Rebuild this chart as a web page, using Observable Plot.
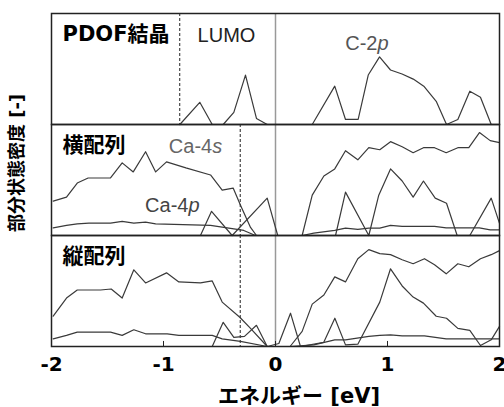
<!DOCTYPE html>
<html>
<head>
<meta charset="utf-8">
<script src="https://cdn.jsdelivr.net/npm/d3@7"></script>
<script src="https://cdn.jsdelivr.net/npm/@observablehq/plot@0.6"></script>
<style>
  body { margin: 0; background: #fff; }
  #wrap { position: relative; width: 504px; height: 407px; }
  .lab { position: absolute; font-family: "DejaVu Sans", "Noto Sans CJK JP", sans-serif; font-weight: 900; color: #000; white-space: nowrap; }
</style>
</head>
<body>
<div id="wrap"></div>
<script>
// Panels (categories)
const panels = ["PDOF結晶", "横配列", "縦配列"];
const xTicks = [-2, -1, 0, 1, 2];

// Energy [eV], partial DOS [arb.]
const pdof_C2p = [[-0.854,0],[-0.676,22],[-0.565,0],[-0.467,0],[-0.372,12],[-0.268,49],[-0.170,6],[-0.074,0],
  [0.328,0],[0.529,38],[0.625,5],[0.738,5],[0.828,49],[0.929,67],[1.027,54],[1.13,50],[1.23,45],[1.324,38],
  [1.435,23],[1.527,0],[1.628,5],[1.735,33],[1.830,27],[1.926,0]];

const yoko_Ca4s = [[-1.985,34],[-1.866,38],[-1.77,52],[-1.673,57],[-1.473,57],[-1.369,72],[-1.27,63],[-1.16,83],
  [-1.07,63],[-0.973,73],[-0.80,67],[-0.58,60],[-0.476,45],[-0.378,47],[-0.3125,30],[-0.223,8],[-0.17,0],
  [0.238,0],[0.328,40],[0.432,59],[0.529,66],[0.625,84],[0.735,75],[0.833,87],[0.931,85],[1.027,93],[1.131,88],
  [1.229,82],[1.321,87],[1.42,87],[1.524,82],[1.628,87],[1.726,87],[1.821,102],[1.917,94],[2.0,92]];
const yoko_Ca4p = [[-1.985,7.6],[-1.866,10],[-1.77,11.6],[-1.666,12.3],[-1.473,12.3],[-1.369,14],[-1.265,12.3],
  [-1.16,13.3],[-1.07,11.6],[-0.58,10],[-0.476,8.3],[-0.372,6.6],[-0.283,5],[-0.179,0],[0.238,0],[0.342,2.3],
  [0.529,5],[0.625,7.3],[0.735,6],[0.833,7.3],[0.931,7.3],[1.027,10],[1.131,9],[1.42,9],[1.524,7.6],[1.82,7.6],
  [1.917,5.6],[2.0,5.6]];
const yoko_C2p = [[-0.67,0],[-0.571,24],[-0.387,0],[-0.074,37],[0.02,0],[0.536,0],[0.625,43],[0.833,0],[0.922,40],
  [1.027,66],[1.131,54],[1.229,38],[1.321,54],[1.426,37],[1.527,32],[1.622,0],[1.735,0],[1.926,37],[2.0,12]];

const tate_Ca4s = [[-1.985,30],[-1.866,48],[-1.77,56],[-1.5625,56],[-1.467,57],[-1.369,48],[-1.265,76],[-1.16,63],
  [-0.973,73],[-0.863,64],[-0.67,63],[-0.565,65],[-0.476,44],[-0.319,29],[-0.223,18],[-0.074,0],
  [0.13,0],[0.238,15],[0.328,42],[0.432,51],[0.529,69],[0.625,64],[0.735,87],[0.833,96],[0.931,92],[1.027,91],
  [1.131,86],[1.229,82],[1.33,87],[1.42,81],[1.524,72],[1.628,82],[1.726,79],[1.83,87],[1.926,91],[2.0,95]];
const tate_Ca4p = [[-1.985,7.6],[-1.866,11],[-1.77,14.3],[-1.473,14.3],[-1.369,11],[-1.265,16.6],[-1.16,12.6],
  [-0.967,12.6],[-0.863,11],[-0.565,11],[-0.476,7.6],[-0.313,5],[-0.074,0],[0.13,0],[0.342,1.6],[0.529,6.6],
  [0.625,6.6],[0.833,10],[0.931,11],[1.027,11.6],[1.131,10.6],[1.33,10.6],[1.524,7.6],[2.0,7.6]];
const tate_C2p = [[-0.565,0],[-0.467,24],[-0.372,9],[-0.277,10],[-0.17,21],[-0.074,0],[0.03,3],[0.134,33],[0.223,0],
  [0.43,4],[0.53,28],[0.625,1.6],[0.735,2.3],[0.931,44],[1.027,77],[1.131,60],[1.229,49],[1.321,43],[1.435,30],
  [1.527,28],[1.628,18],[1.735,16],[1.83,1],[1.926,6.6],[2.0,20]];

// Dashed markers (eV)
const dashTop = -0.855;
const dashLower = -0.315;

// Annotations: main part (anchored end / middle) and italic orbital letter (anchored start)
const noteMain = [
  {panel: "PDOF結晶", x: -0.4375, y: 88, text: "LUMO", anchor: "middle", color: "#222"},
  {panel: "PDOF結晶", x: 0.91, y: 80, text: "C-2", anchor: "end", color: "#555"},
  {panel: "横配列", x: -0.565, y: 88, text: "Ca-4", anchor: "end", color: "#666"},
  {panel: "横配列", x: -0.777, y: 30, text: "Ca-4", anchor: "end", color: "#444"}
];
const noteItalic = [
  {panel: "PDOF結晶", x: 0.91, y: 80, text: "p", color: "#555"},
  {panel: "横配列", x: -0.565, y: 88, text: "s", color: "#666"},
  {panel: "横配列", x: -0.777, y: 30, text: "p", color: "#444"}
];

const rows = [];
function add(panel, series, pts) { for (const [x, y] of pts) rows.push({panel, series, x, y}); }
add(panels[0], "C-2p", pdof_C2p);
add(panels[1], "Ca-4s", yoko_Ca4s);
add(panels[1], "Ca-4p", yoko_Ca4p);
add(panels[1], "C-2p", yoko_C2p);
add(panels[2], "Ca-4s", tate_Ca4s);
add(panels[2], "Ca-4p", tate_Ca4p);
add(panels[2], "C-2p", tate_C2p);

const dashes = [{panel: panels[0], x: dashTop}, {panel: panels[1], x: dashLower}, {panel: panels[2], x: dashLower}];
const innerTicks = xTicks.slice(1, 4).map(x => ({panel: panels[2], x}));
const panelLabels = panels.map(p => ({panel: p}));

const regular = "'Liberation Sans', Arial, sans-serif";
const heavy = "'DejaVu Sans', 'Noto Sans CJK JP', sans-serif";

const textOpts = {x: "x", y: "y", fy: "panel", text: "text", fill: "color", fontSize: 20, lineAnchor: "middle"};

const chart = Plot.plot({
  width: 504, height: 407,
  marginTop: 13, marginBottom: 61, marginLeft: 51, marginRight: 5,
  style: {fontFamily: regular, background: "#fff", overflow: "visible"},
  x: {domain: [-2, 2]},
  y: {domain: [0, 110], axis: null},
  fy: {domain: panels, padding: 0, axis: null},
  marks: [
    Plot.ruleX([0], {stroke: "#999", strokeWidth: 1.5}),
    Plot.ruleX(dashes, {x: "x", fy: "panel", stroke: "#222", strokeWidth: 1, strokeDasharray: "3,2"}),
    Plot.line(rows, {x: "x", y: "y", z: "series", fy: "panel", stroke: "#3a3a3a", strokeWidth: 1.2}),
    Plot.ruleX(innerTicks, {x: "x", fy: "panel", y1: 0, y2: 5, stroke: "#222", strokeWidth: 1}),
    Plot.frame({stroke: "#222", strokeWidth: 1.5}),
    Plot.text(panelLabels, {fy: "panel", text: "panel", frameAnchor: "top-left", dx: 11, dy: 21,
      textAnchor: "start", lineAnchor: "middle", fontSize: 21, fontWeight: "bold", fontFamily: heavy, fill: "#000"}),
    Plot.text(noteMain.filter(d => d.anchor === "middle"), {...textOpts, textAnchor: "middle"}),
    Plot.text(noteMain.filter(d => d.anchor === "end"), {...textOpts, textAnchor: "end"}),
    Plot.text(noteItalic, {...textOpts, textAnchor: "start", fontStyle: "italic"}),
    Plot.axisX({ticks: xTicks, tickSize: 0, tickPadding: 10, tickFormat: d => String(d), label: null,
      fontSize: 20, fontWeight: "bold", fontFamily: heavy, fill: "#000"})
  ]
});

const wrap = document.getElementById("wrap");
wrap.appendChild(chart);

const xl = document.createElement("div");
xl.className = "lab";
xl.textContent = "エネルギー [eV]";
xl.style.cssText = "left:299px; top:396px; font-size:21px; line-height:1; font-weight:bold; transform:translate(-50%,-50%);";
wrap.appendChild(xl);

const yl = document.createElement("div");
yl.className = "lab";
yl.textContent = "部分状態密度 [-]";
yl.style.cssText = "left:17px; top:163px; font-size:18px; line-height:1; font-weight:bold; transform:translate(-50%,-50%) rotate(-90deg);";
wrap.appendChild(yl);
</script>
</body>
</html>
